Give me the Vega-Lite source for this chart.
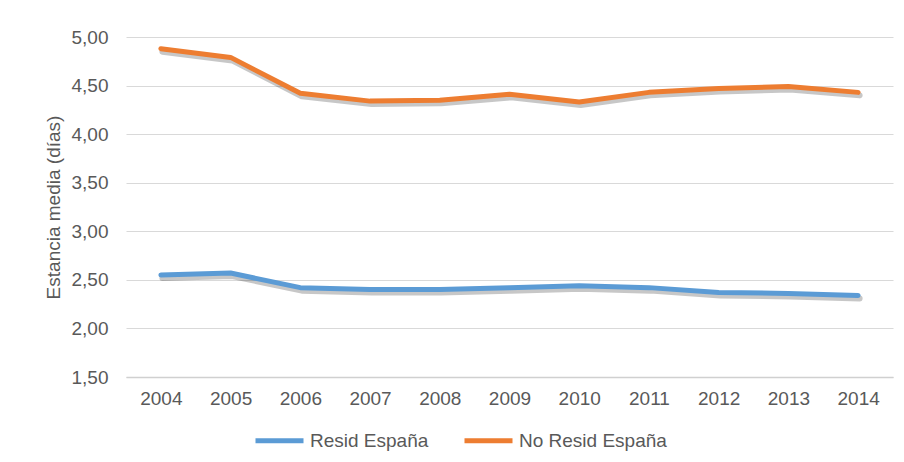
{
  "$schema": "https://vega.github.io/schema/vega-lite/v6.json",
  "autosize": "none",
  "width": 767,
  "height": 340,
  "padding": {"left": 126, "top": 37, "right": 11, "bottom": 85},
  "background": "white",
  "config": {
    "view": {"stroke": null},
    "font": "Liberation Sans",
    "axis": {"labelFont": "Liberation Sans", "titleFont": "Liberation Sans", "labelColor": "#595959", "titleColor": "#595959"},
    "legend": {"labelFont": "Liberation Sans"}
  },
  "data": {
    "values": [
      {"year": "2004", "serie": "Resid España", "value": 2.55},
      {"year": "2005", "serie": "Resid España", "value": 2.57},
      {"year": "2006", "serie": "Resid España", "value": 2.42},
      {"year": "2007", "serie": "Resid España", "value": 2.40},
      {"year": "2008", "serie": "Resid España", "value": 2.40},
      {"year": "2009", "serie": "Resid España", "value": 2.42},
      {"year": "2010", "serie": "Resid España", "value": 2.44},
      {"year": "2011", "serie": "Resid España", "value": 2.42},
      {"year": "2012", "serie": "Resid España", "value": 2.37},
      {"year": "2013", "serie": "Resid España", "value": 2.36},
      {"year": "2014", "serie": "Resid España", "value": 2.34},
      {"year": "2004", "serie": "No Resid España", "value": 4.88},
      {"year": "2005", "serie": "No Resid España", "value": 4.79},
      {"year": "2006", "serie": "No Resid España", "value": 4.42},
      {"year": "2007", "serie": "No Resid España", "value": 4.34},
      {"year": "2008", "serie": "No Resid España", "value": 4.35},
      {"year": "2009", "serie": "No Resid España", "value": 4.41},
      {"year": "2010", "serie": "No Resid España", "value": 4.33},
      {"year": "2011", "serie": "No Resid España", "value": 4.43},
      {"year": "2012", "serie": "No Resid España", "value": 4.47},
      {"year": "2013", "serie": "No Resid España", "value": 4.49},
      {"year": "2014", "serie": "No Resid España", "value": 4.43}
    ]
  },
  "encoding": {
    "x": {
      "field": "year", "type": "ordinal",
      "scale": {"type": "point", "padding": 0.5},
      "axis": {"title": null, "labelAngle": 0, "labelFontSize": 19, "labelPadding": 12, "ticks": false, "domainColor": "#d0d0d0", "domainWidth": 1.5, "grid": false}
    },
    "y": {
      "field": "value", "type": "quantitative",
      "scale": {"domain": [1.5, 5], "nice": false, "zero": false},
      "axis": {
        "title": "Estancia media (días)", "titleFontSize": 19, "titleFontWeight": "normal", "titlePadding": 8,
        "values": [1.5, 2, 2.5, 3, 3.5, 4, 4.5, 5],
        "labelExpr": "replace(format(datum.value, '.2f'), '.', ',')",
        "labelFontSize": 19, "labelPadding": 18, "ticks": false, "domain": false,
        "gridColor": "#d9d9d9", "gridWidth": 1
      }
    }
  },
  "layer": [
    {
      "mark": {"type": "line", "stroke": "#000000", "opacity": 0.22, "strokeWidth": 6, "xOffset": 1.5, "yOffset": 3, "strokeCap": "round", "strokeJoin": "round"},
      "encoding": {"detail": {"field": "serie"}}
    },
    {
      "mark": {"type": "line", "strokeWidth": 5, "strokeCap": "round", "strokeJoin": "round"},
      "encoding": {
        "color": {
          "field": "serie", "type": "nominal",
          "scale": {"domain": ["Resid España", "No Resid España"], "range": ["#5B9BD5", "#ED7D31"]},
          "legend": {
            "title": null, "orient": "none", "legendX": 127, "legendY": 377, "direction": "horizontal",
            "symbolType": "stroke", "symbolSize": 2304, "symbolStrokeWidth": 5,
            "labelFontSize": 19, "labelColor": "#595959", "labelOffset": 4, "columnPadding": 25
          }
        }
      }
    }
  ]
}
